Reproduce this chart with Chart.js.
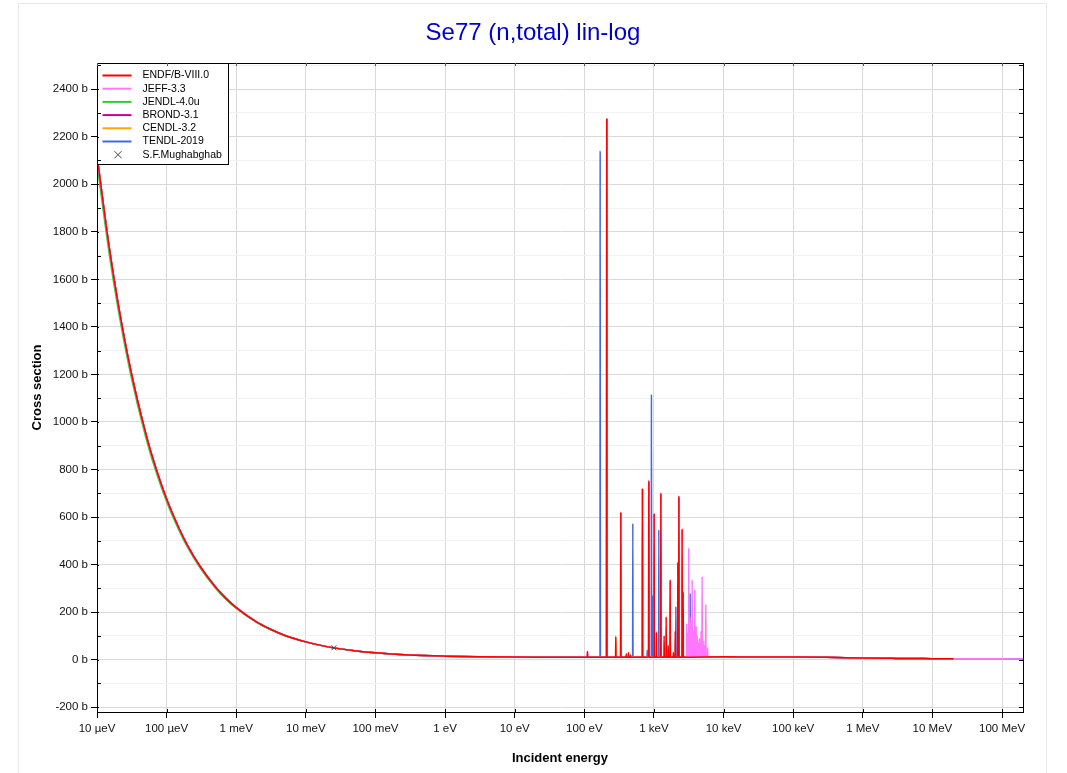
<!DOCTYPE html>
<html>
<head>
<meta charset="utf-8">
<script src="https://cdn.jsdelivr.net/npm/chart.js@4.4.1/dist/chart.umd.min.js"></script>
<style>
  html, body { margin: 0; padding: 0; background: #fff; overflow: hidden; }
  #frame { position: absolute; left: 18px; top: 3px; width: 1027px; height: 800px; border: 1px solid #e8e8e8; }
  #chart { position: absolute; left: 0; top: 0; }
</style>
</head>
<body>
<div id="frame"><canvas id="chart" width="1027" height="769"></canvas></div>
<script>
const chartTitle = 'Se77 (n,total) lin-log';
const libNames = ['ENDF/B-VIII.0', 'JEFF-3.3', 'JENDL-4.0u', 'BROND-3.1', 'CENDL-3.2', 'TENDL-2019'];
const libColors = ['#ff0000', '#ff77ff', '#33cc33', '#c8008c', '#ffa500', '#4169e1'];

const xTicks = [1e-5, 1e-4, 1e-3, 1e-2, 1e-1, 1, 10, 100, 1e3, 1e4, 1e5, 1e6, 1e7, 1e8];
const xTickLabels = ['10 µeV', '100 µeV', '1 meV', '10 meV', '100 meV', '1 eV', '10 eV', '100 eV',
  '1 keV', '10 keV', '100 keV', '1 MeV', '10 MeV', '100 MeV'];
const yGrid = [-200, -100, 0, 100, 200, 300, 400, 500, 600, 700, 800, 900, 1000, 1100, 1200, 1300,
  1400, 1500, 1600, 1700, 1800, 1900, 2000, 2100, 2200, 2300, 2400, 2500];

// 1/v region (eV, barns)
const eSmooth = [1e-5, 1.5e-5, 2e-5, 3e-5, 5e-5, 7e-5, 1e-4, 1.5e-4, 2e-4, 3e-4, 5e-4, 7e-4, 1e-3,
  2e-3, 3e-3, 5e-3, 1e-2, 2e-2, 5e-2, 0.1, 0.3, 1, 3, 10, 30, 100];
const endfSmooth = [2121, 1733, 1502, 1228, 953, 806, 676, 554, 480, 394, 307, 260, 219,
  157, 130, 102, 75, 55, 38, 29, 20, 15, 12.5, 11, 10.5, 10];
const jendlSmooth = [2085, 1705, 1478, 1208, 937, 793, 665, 545, 472, 388, 302, 256, 216,
  155, 128, 101, 74, 54, 38, 29, 20, 15, 12.5, 11, 10.5, 10];
// fast region
const eFast = [1e4, 3e4, 1e5, 3e5, 1e6, 3e6, 1e7, 2e7];
const sFast = [12, 11.5, 11, 10, 7, 5.5, 4.5, 4];
const eHigh = [5e7, 1e8, 2e8];
const sHigh = [4, 3.5, 3];
const resBase = 10;

// resonances: energy (eV), peak (b)
const endfResE = [111, 210, 283, 334, 400, 430, 460, 684, 844, 1007, 1086, 1256, 1400, 1497, 1600, 1710, 1900, 2020, 2200, 2280, 2540, 2630];
const endfResS = [35, 2275, 95, 620, 25, 30, 20, 720, 750, 615, 115, 700, 100, 180, 60, 335, 30, 120, 410, 685, 550, 285];
const jeffResE = [111, 210, 334, 684, 844, 1007, 1256, 1710, 2280, 2540, 2950, 3050, 3160, 3300, 3420, 3540, 3700, 3860, 4050, 4200, 4350, 4500, 4750, 4920, 5200, 5400, 5560, 5900];
const jeffResS = [35, 2275, 620, 720, 750, 615, 700, 335, 685, 550, 150, 110, 470, 180, 160, 335, 120, 295, 140, 100, 70, 90, 120, 350, 80, 60, 232, 50];
const jendlResE = [210, 334, 684, 844, 1256, 2280];
const jendlResS = [2275, 620, 720, 750, 700, 685];
const brondResE = [210, 844, 2280];
const brondResS = [2275, 755, 690];
const cendlResE = [210, 283];
const cendlResS = [2275, 100];
const tendlResE = [169, 497, 800, 921, 950, 1175, 2065, 3311, 3660];
const tendlResS = [2140, 573, 40, 1116, 270, 547, 223, 279, 109];

const thermalE = [0.0253];
const thermalS = [50];

function series(eList, sList, resE, resS) {
  const pts = eList.map((e, i) => ({ x: e, y: sList[i] }));
  resE.forEach((e, i) => {
    pts.push({ x: e * 0.993, y: resBase }, { x: e, y: resS[i] }, { x: e * 1.007, y: resBase });
  });
  return pts.sort((a, b) => a.x - b.x);
}

const eTo20 = eSmooth.concat(eFast);
const eTo200 = eTo20.concat(eHigh);
const libData = [
  series(eTo20, endfSmooth.concat(sFast), endfResE, endfResS),
  series(eTo200, endfSmooth.concat(sFast, sHigh), jeffResE, jeffResS),
  series(eTo20, jendlSmooth.concat(sFast), jendlResE, jendlResS),
  series(eTo20, endfSmooth.concat(sFast), brondResE, brondResS),
  series(eTo20, endfSmooth.concat(sFast), cendlResE, cendlResS),
  series(eTo200, endfSmooth.concat(sFast, sHigh), tendlResE, tendlResS)
];

const FONT = '"Liberation Sans", Arial, sans-serif';

const datasets = libNames.map((name, i) => ({
  label: name,
  data: libData[i],
  borderColor: libColors[i],
  backgroundColor: libColors[i],
  borderWidth: 1.5,
  pointRadius: 0,
  fill: false,
  cubicInterpolationMode: 'monotone'
}));
datasets.push({
  label: 'S.F.Mughabghab',
  data: thermalE.map((e, i) => ({ x: e, y: thermalS[i] })),
  showLine: false,
  pointStyle: 'crossRot',
  pointRadius: 3.5,
  borderColor: '#444',
  backgroundColor: '#444',
  borderWidth: 1,
  order: -1
});

// title, frame, inner ticks
const decorPlugin = {
  id: 'decor',
  afterDraw(chart) {
    const { ctx, chartArea: a, scales: { x, y } } = chart;
    ctx.save();
    ctx.fillStyle = '#0000cc';
    ctx.font = '24px ' + FONT;
    ctx.textAlign = 'center';
    ctx.textBaseline = 'alphabetic';
    ctx.fillText(chartTitle, 514, 36);

    ctx.strokeStyle = '#000';
    ctx.lineWidth = 1;
    ctx.strokeRect(Math.round(a.left) + 0.5, Math.round(a.top) + 0.5,
      Math.round(a.right - a.left), Math.round(a.bottom - a.top));

    ctx.beginPath();
    yGrid.forEach(v => {
      const py = Math.round(y.getPixelForValue(v)) + 0.5;
      const major = v % 200 === 0;
      ctx.moveTo(a.left, py); ctx.lineTo(a.left + (major ? 2 : 4), py);
      ctx.moveTo(a.right, py); ctx.lineTo(a.right - 4, py);
    });
    xTicks.forEach(v => {
      const px = Math.round(x.getPixelForValue(v)) + 0.5;
      ctx.moveTo(px, a.bottom); ctx.lineTo(px, a.bottom - 3);
    });
    ctx.stroke();
    ctx.strokeStyle = '#555';
    ctx.beginPath();
    xTicks.forEach(v => {
      const px = Math.round(x.getPixelForValue(v)) + 0.5;
      ctx.moveTo(px, a.top); ctx.lineTo(px, a.top + 3);
    });
    ctx.stroke();
    ctx.restore();
  }
};

// legend box inside the plot
const boxLegend = {
  id: 'boxLegend',
  afterDatasetsDraw(chart) {
    const { ctx, chartArea: a } = chart;
    const bx = Math.round(a.left) + 0.5, by = Math.round(a.top) + 0.5;
    ctx.save();
    ctx.fillStyle = '#fff';
    ctx.fillRect(bx, by, 131, 101);
    ctx.strokeStyle = '#000';
    ctx.lineWidth = 1;
    ctx.strokeRect(bx, by, 131, 101);
    ctx.font = '10.5px ' + FONT;
    ctx.textBaseline = 'middle';
    ctx.fillStyle = '#000';
    chart.data.datasets.forEach((ds, i) => {
      const ry = by + 12 + i * 13.2;
      if (ds.showLine === false) {
        ctx.strokeStyle = ds.borderColor;
        ctx.beginPath();
        ctx.moveTo(bx + 17, ry - 3.5); ctx.lineTo(bx + 24, ry + 3.5);
        ctx.moveTo(bx + 24, ry - 3.5); ctx.lineTo(bx + 17, ry + 3.5);
        ctx.stroke();
      } else {
        ctx.strokeStyle = ds.borderColor;
        ctx.lineWidth = 2;
        ctx.beginPath();
        ctx.moveTo(bx + 5, ry); ctx.lineTo(bx + 34, ry);
        ctx.stroke();
        ctx.lineWidth = 1;
      }
      ctx.fillText(ds.label, bx + 45, ry);
    });
    ctx.restore();
  }
};

new Chart(document.getElementById('chart'), {
  type: 'line',
  data: { datasets: datasets },
  plugins: [boxLegend, decorPlugin],
  options: {
    responsive: false,
    animation: false,
    devicePixelRatio: 1,
    layout: { padding: { top: 59, right: 23, left: 0, bottom: 0 } },
    plugins: {
      legend: { display: false },
      title: { display: false },
      tooltip: { enabled: false }
    },
    scales: {
      x: {
        type: 'logarithmic',
        min: 1e-5,
        max: 2e8,
        afterBuildTicks: s => { s.ticks = xTicks.map(v => ({ value: v })); },
        afterFit: s => { s.height = 61; },
        ticks: {
          autoSkip: false,
          maxRotation: 0,
          padding: 4,
          color: '#111',
          font: { family: FONT, size: 11.5 },
          callback: (v, i) => xTickLabels[i]
        },
        grid: { color: '#d9d9d9', lineWidth: 1, tickLength: 6, tickColor: '#000' },
        border: { display: true, color: '#000', width: 1 },
        title: {
          display: true,
          text: 'Incident energy',
          color: '#000',
          font: { family: FONT, size: 13, weight: 'bold' },
          padding: { top: 0, bottom: 7 }
        }
      },
      y: {
        type: 'linear',
        min: -220,
        max: 2510,
        afterBuildTicks: s => { s.ticks = yGrid.map(v => ({ value: v })); },
        afterFit: s => { s.width = 78; },
        ticks: {
          autoSkip: false,
          padding: 3,
          color: '#111',
          font: { family: FONT, size: 11.5 },
          callback: v => (v % 200 === 0 ? v + ' b' : '')
        },
        grid: {
          color: c => (c.tick && c.tick.value % 200 === 0 ? '#d9d9d9' : '#f2f2f2'),
          tickColor: c => (c.tick && c.tick.value % 200 === 0 ? '#000' : 'rgba(0,0,0,0)'),
          tickLength: 6
        },
        border: { display: true, color: '#000', width: 1 },
        title: {
          display: true,
          text: 'Cross section',
          color: '#000',
          font: { family: FONT, size: 13, weight: 'bold' },
          padding: { top: 11, bottom: 0 }
        }
      }
    }
  }
});
</script>
</body>
</html>
